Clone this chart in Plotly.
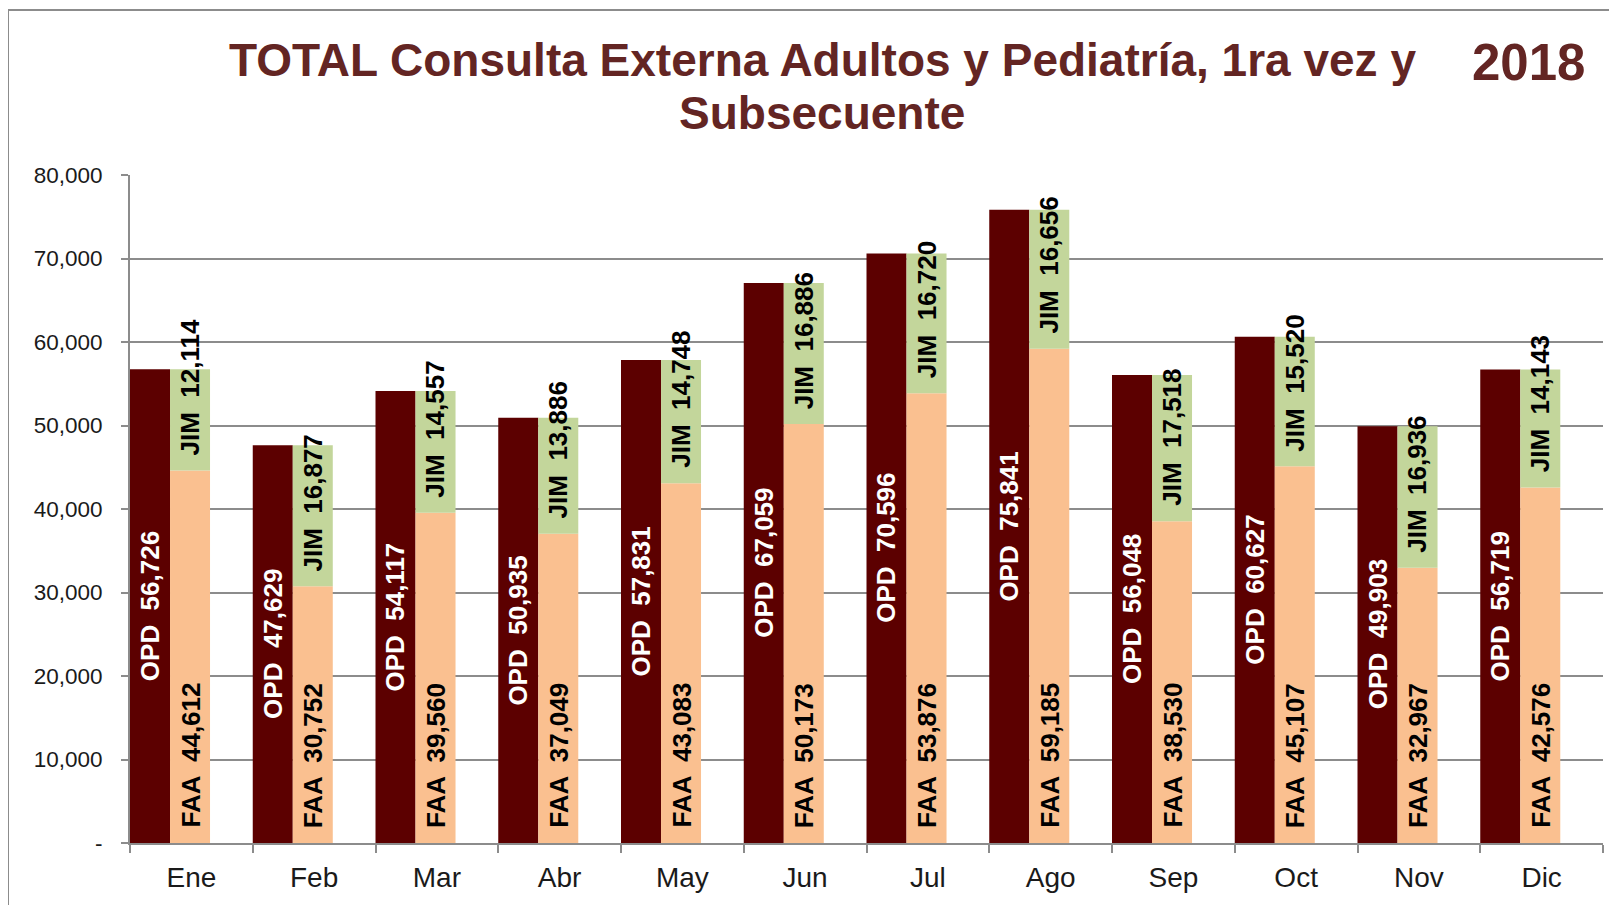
import plotly.graph_objects as go

months = ["Ene", "Feb", "Mar", "Abr", "May", "Jun", "Jul", "Ago", "Sep", "Oct", "Nov", "Dic"]
opd = [56726, 47629, 54117, 50935, 57831, 67059, 70596, 75841, 56048, 60627, 49903, 56719]
faa = [44612, 30752, 39560, 37049, 43083, 50173, 53876, 59185, 38530, 45107, 32967, 42576]
jim = [12114, 16877, 14557, 13886, 14748, 16886, 16720, 16656, 17518, 15520, 16936, 14143]
ytick_vals = [0, 10000, 20000, 30000, 40000, 50000, 60000, 70000, 80000]
ytick_text = ["-", "10,000", "20,000", "30,000", "40,000", "50,000", "60,000", "70,000", "80,000"]

C_OPD = "#5C0000"
C_FAA = "#FAC090"
C_JIM = "#C3D69B"
GRID = "#8C8C8C"
FONT = "Liberation Sans, Arial, sans-serif"

W = 0.326  # bar width in category units

fig = go.Figure()
fig.add_trace(go.Bar(x=months, y=opd, name="OPD", marker_color=C_OPD, width=W, offset=-0.5,
                     marker_line_width=0, hoverinfo="y"))
fig.add_trace(go.Bar(x=months, y=faa, name="FAA", marker_color=C_FAA, width=W, offset=-0.5 + W,
                     marker_line_width=0, hoverinfo="y"))
fig.add_trace(go.Bar(x=months, y=jim, base=faa, name="JIM", marker_color=C_JIM, width=W, offset=-0.5 + W,
                     marker_line_width=0, hoverinfo="y"))

ann = []
lab_font = dict(family=FONT, size=26)
for i in range(len(months)):
    x_opd = i - 0.5 + W / 2
    x_stk = i - 0.5 + W + W / 2
    ann.append(dict(x=x_opd, y=opd[i] / 2, xref="x", yref="y", text=f"<b>OPD  {opd[i]:,}</b>",
                    textangle=-90, showarrow=False, xanchor="center", yanchor="middle",
                    font=dict(lab_font, color="white")))
    ann.append(dict(x=x_stk, y=0, xref="x", yref="y", text=f"<b>FAA  {faa[i]:,}</b>",
                    textangle=-90, showarrow=False, xanchor="center", yanchor="bottom", yshift=13,
                    font=dict(lab_font, color="black")))
    ann.append(dict(x=x_stk, y=faa[i], xref="x", yref="y", text=f"<b>JIM  {jim[i]:,}</b>",
                    textangle=-90, showarrow=False, xanchor="center", yanchor="bottom", yshift=13,
                    font=dict(lab_font, color="black")))

OFF = 8  # page body margin
# Title lines (page pixel positions)
titles = [
    (822, 60, "<b>TOTAL Consulta Externa Adultos y Pediatría, 1ra vez y</b>", 46),
    (822, 113, "<b>Subsecuente</b>", 46),
    (1528, 62, "<b>2018</b>", 51),
]

FW, FH = 1617 - OFF, 905 - OFF
L, R, T, B = 130 - OFF, 14, 175 - OFF, 62
PW, PH = FW - L - R, FH - T - B

def px_x(x):
    return (x - OFF - L) / PW

def px_y(y):
    return 1 + (T - (y - OFF)) / PH

for x, y, t, s in titles:
    ann.append(dict(x=px_x(x), y=px_y(y), xref="paper", yref="paper", text=t, showarrow=False,
                    font=dict(family=FONT, size=s, color="#632523"), xanchor="center", yanchor="middle"))

fig.update_layout(
    width=FW, height=FH,
    margin=dict(l=L, r=R, t=T, b=B, pad=0),
    barmode="overlay",
    showlegend=False,
    plot_bgcolor="white", paper_bgcolor="white",
    annotations=ann,
    font=dict(family=FONT, color="#1a1a1a"),
    xaxis=dict(type="category", range=[-0.5, 11.5], tickson="boundaries", ticks="outside",
               ticklen=8, tickwidth=2, tickcolor=GRID, showline=True, linecolor=GRID, linewidth=2,
               showgrid=False, tickfont=dict(family=FONT, size=28, color="#1a1a1a"),
               ticklabelstandoff=8, fixedrange=True),
    yaxis=dict(range=[0, 80000], tickvals=ytick_vals, ticktext=ytick_text, ticks="outside",
               ticklen=7, tickwidth=2, tickcolor=GRID, showline=True, linecolor=GRID, linewidth=2,
               showgrid=True, gridcolor=GRID, gridwidth=2, zeroline=False,
               tickfont=dict(family=FONT, size=22.5, color="#1a1a1a"), ticklabelstandoff=14,
               fixedrange=True),
    shapes=[dict(type="rect", xref="paper", yref="paper",
                 x0=px_x(8), x1=px_x(1640), y0=px_y(930), y1=px_y(10),
                 line=dict(color="#8C8C8C", width=2), fillcolor="rgba(0,0,0,0)", layer="below")],
)

fig.write_html("out.html", config={"displayModeBar": False})
